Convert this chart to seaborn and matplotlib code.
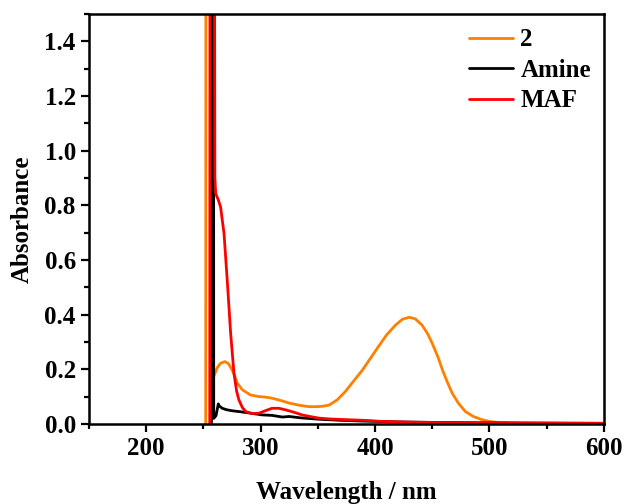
import numpy as np
import pandas as pd
import seaborn as sns
import matplotlib
matplotlib.use("Agg")
import matplotlib.pyplot as plt
from matplotlib.ticker import MultipleLocator

# UV-vis absorption spectra (wavelength in nm, absorbance)
wl_2 = [252, 252.5, 255, 258, 259, 262, 265, 268.8, 272, 276, 279.6, 284, 291, 298,
        304, 310, 318, 325, 334, 342, 350, 355, 360, 367, 374, 381, 389, 396, 403,
        410, 418, 424, 429.6, 435, 441, 446, 450, 455, 459, 463, 467.5, 473, 479,
        486, 493.6, 500, 508, 530, 560, 600]
abs_2 = [0, 5, 5, 0.12, 0.173, 0.205, 0.222, 0.228, 0.22, 0.19, 0.149, 0.125, 0.106,
         0.1, 0.098, 0.094, 0.085, 0.076, 0.068, 0.063, 0.063, 0.065, 0.069, 0.088,
         0.118, 0.155, 0.197, 0.24, 0.283, 0.325, 0.362, 0.383, 0.39, 0.385, 0.362,
         0.33, 0.295, 0.245, 0.197, 0.155, 0.112, 0.075, 0.045, 0.027, 0.015, 0.009,
         0.005, 0.003, 0.002, 0.001]

wl_amine = [257, 257.5, 258.5, 259, 261, 263, 264, 266.5, 270, 275, 281, 290, 301,
            310, 319, 325, 335, 351, 370, 391, 420, 460, 520, 600]
abs_amine = [0, 5, 5, 0.02, 0.03, 0.073, 0.065, 0.057, 0.052, 0.048, 0.045, 0.04,
             0.033, 0.031, 0.025, 0.027, 0.022, 0.017, 0.013, 0.01, 0.007, 0.005,
             0.003, 0.002]

wl_maf = [255.5, 256, 258.5, 260, 260.7, 263, 265, 268, 271, 273.8, 276.7, 279, 281,
          284, 287, 292, 298.5, 304, 310, 316, 322, 328, 336, 343, 351, 360, 377, 390,
          406, 435, 470, 520, 600]
abs_maf = [0, 5, 5, 0.9, 0.843, 0.82, 0.794, 0.697, 0.514, 0.331, 0.185, 0.12, 0.088,
           0.06, 0.045, 0.038, 0.039, 0.048, 0.057, 0.057, 0.051, 0.044, 0.033, 0.027,
           0.021, 0.018, 0.015, 0.013, 0.009, 0.006, 0.004, 0.003, 0.002]

series = ["2", "Amine", "MAF"]
colors = {"2": "#FF8000", "Amine": "#000000", "MAF": "#FF0000"}

df = pd.concat([
    pd.DataFrame({"wl": wl_2, "A": abs_2, "s": "2"}),
    pd.DataFrame({"wl": wl_amine, "A": abs_amine, "s": "Amine"}),
    pd.DataFrame({"wl": wl_maf, "A": abs_maf, "s": "MAF"}),
], ignore_index=True)

sns.set_theme(style="ticks")
plt.rcParams["font.family"] = ["Liberation Serif", "DejaVu Serif"]
plt.rcParams["font.weight"] = "bold"
plt.rcParams["axes.labelweight"] = "bold"
plt.rcParams["text.color"] = "black"
plt.rcParams["axes.labelcolor"] = "black"
plt.rcParams["xtick.color"] = "black"
plt.rcParams["ytick.color"] = "black"

fig = plt.figure(figsize=(6.27, 5.04), dpi=100)
ax = fig.add_axes([0.142, 0.159, 0.821, 0.813])

sns.lineplot(data=df, x="wl", y="A", hue="s", hue_order=series, palette=colors,
             estimator=None, sort=False, linewidth=2.0, ax=ax)

ax.set_xlim(150, 600)
ax.set_ylim(0, 1.5)
ax.xaxis.set_major_locator(MultipleLocator(100))
ax.xaxis.set_minor_locator(MultipleLocator(50))
ax.yaxis.set_minor_locator(MultipleLocator(0.1))
ax.set_yticks(np.arange(0, 1.41, 0.2))
ax.set_yticklabels([f"{v:.1f}" for v in np.arange(0, 1.41, 0.2)])

ax.tick_params(which="major", direction="out", length=6, width=1.6, labelsize=18,
               colors="black")
ax.tick_params(which="minor", direction="out", length=3.5, width=1.6, colors="black")
for lab in ax.get_xticklabels() + ax.get_yticklabels():
    lab.set_fontweight("bold")
for sp in ax.spines.values():
    sp.set_linewidth(1.8)
    sp.set_color("black")

ax.set_xlabel("Wavelength / nm", fontsize=18, fontweight="bold", labelpad=15)
ax.set_ylabel("Absorbance", fontsize=18, fontweight="bold", labelpad=8)

leg = ax.legend(loc="upper right", bbox_to_anchor=(1.019, 1.02), frameon=False,
                fontsize=18, handlelength=1.75, handletextpad=0.3, labelspacing=0.3,
                title=None)
for t in leg.get_texts():
    t.set_fontweight("bold")

fig.savefig("out.png", dpi=100)
